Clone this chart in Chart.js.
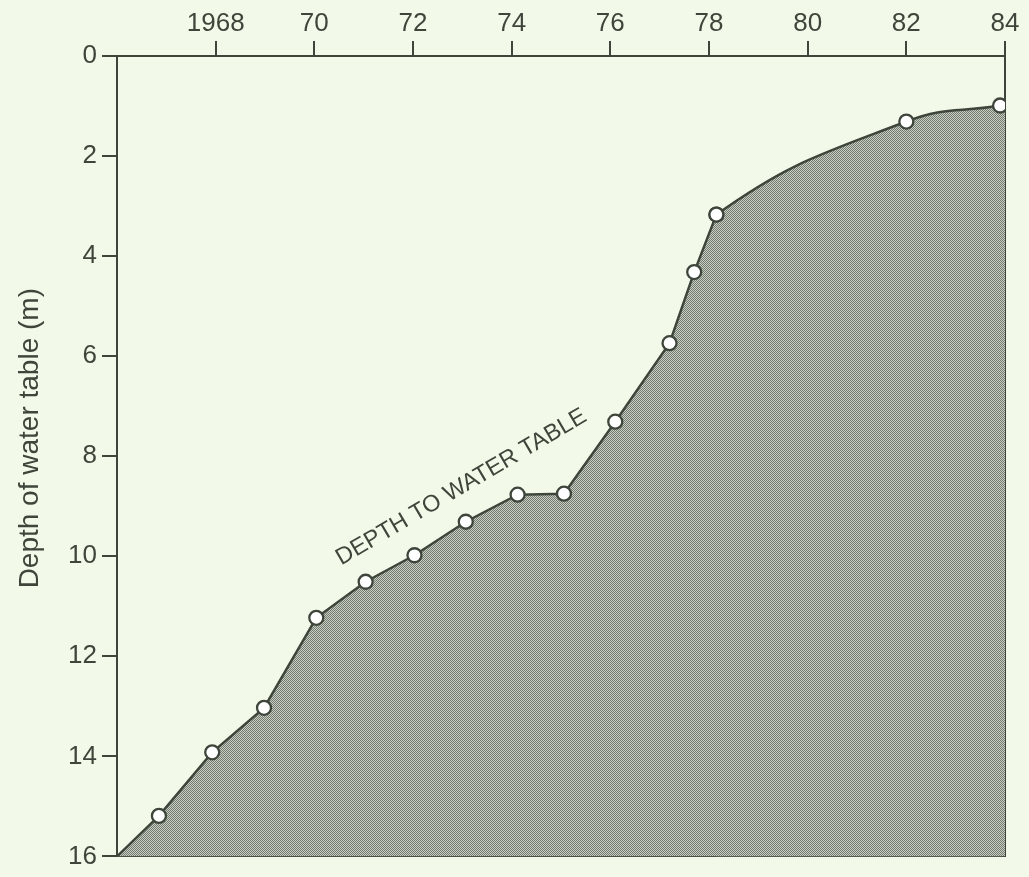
<!DOCTYPE html>
<html>
<head>
<meta charset="utf-8">
<title>Depth of water table</title>
<script src="https://cdn.jsdelivr.net/npm/chart.js@4.4.1/dist/chart.umd.min.js"></script>
<style>
  html, body { margin: 0; padding: 0; background: #f3f9e8; }
  #wrap { width: 1029px; height: 877px; }
</style>
</head>
<body>
<div id="wrap"><canvas id="waterChart" width="1029" height="877"></canvas></div>
<script>
// survey years and depth of the water table below ground (m);
// first and last entries are where the line meets the frame
const years  = [1966, 1966.85, 1967.93, 1968.98, 1970.04, 1971.04, 1972.03, 1973.07, 1974.12, 1975.06, 1976.1, 1977.2, 1977.7, 1978.15, 1982.0, 1983.9, 1984];
const depths = [16,   15.19,   13.92,   13.03,   11.23,   10.51,   9.98,    9.31,    8.77,    8.75,    7.31,   5.74,   4.32,   3.17,    1.31,   0.99,   0.97];

const xTickYears  = [1968, 1970, 1972, 1974, 1976, 1978, 1980, 1982, 1984];
const xTickLabels = ['1968', '70', '72', '74', '76', '78', '80', '82', '84'];

const yearMin = 1966, yearMax = 1984;
const depthMin = 0, depthMax = 16, depthStep = 2;

// readings from this index on are joined by a smooth curve
const curveFrom = 12;

const ink = '#3e463c';
const fontFamily = '"Liberation Sans", Arial, Helvetica, sans-serif';

function stipple() {
    const c = document.createElement('canvas');
    c.width = 2;
    c.height = 2;
    const g = c.getContext('2d');
    g.fillStyle = '#c8cec1';
    g.fillRect(0, 0, 2, 2);
    g.fillStyle = '#737b70';
    g.fillRect(0, 0, 1, 1);
    g.fillRect(1, 1, 1, 1);
    return g.createPattern(c, 'repeat');
}
const shade = stipple();
const hidden = 'rgba(0,0,0,0)';

const points = years.map((y, i) => ({ x: y, y: depths[i] }));
const straightPart = points.slice(0, curveFrom + 2);
// last reading is the final marker; the frame edge point is left to the shading
const curvedPart = points.slice(curveFrom, points.length - 1);

const marker = {
    pointBackgroundColor: '#ffffff',
    pointBorderColor: ink,
    pointBorderWidth: 2.3
};

const chartText = {
    id: 'chartText',
    afterDatasetsDraw(chart) {
        const { ctx, scales, chartArea } = chart;

        const px = scales.x.getPixelForValue(1972.98);
        const py = scales.y.getPixelForValue(8.62);
        ctx.save();
        ctx.translate(px, py);
        ctx.rotate(-30.5 * Math.PI / 180);
        ctx.font = '23.5px ' + fontFamily;
        ctx.fillStyle = ink;
        ctx.textAlign = 'center';
        ctx.textBaseline = 'middle';
        ctx.fillText('DEPTH TO WATER TABLE', 0, 0);
        ctx.restore();

        // y axis title
        ctx.save();
        ctx.translate(30, (chartArea.top + chartArea.bottom) / 2 - 18);
        ctx.rotate(-Math.PI / 2);
        ctx.font = '28px ' + fontFamily;
        ctx.fillStyle = ink;
        ctx.textAlign = 'center';
        ctx.textBaseline = 'middle';
        ctx.fillText('Depth of water table (m)', 0, 0);
        ctx.restore();
    }
};

new Chart(document.getElementById('waterChart'), {
    type: 'line',
    data: {
        datasets: [{
            // shaded ground below the water table, straight joins
            label: 'Ground',
            data: points,
            order: 2,
            tension: 0,
            borderWidth: 0,
            borderColor: hidden,
            backgroundColor: shade,
            fill: { value: depthMax },
            pointRadius: 0
        }, {
            // recent readings, smoothed; covers the curve's bulge too
            label: 'Depth to water table (recent)',
            data: curvedPart,
            order: 1,
            tension: 0.45,
            borderColor: ink,
            borderWidth: 2.5,
            backgroundColor: shade,
            fill: { value: depthMax },
            segment: {
                borderColor: ctx => ctx.p0DataIndex === 0 ? hidden : ink,
                backgroundColor: ctx => ctx.p0DataIndex === 0 ? hidden : shade
            },
            pointRadius: curvedPart.map((p, i) => i === 0 ? 0 : 7),
            ...marker
        }, {
            // earlier readings, straight joins
            label: 'Depth to water table',
            data: straightPart,
            order: 0,
            tension: 0,
            borderColor: ink,
            borderWidth: 2.5,
            fill: false,
            pointRadius: straightPart.map((p, i) => i === 0 ? 0 : 7),
            ...marker
        }]
    },
    options: {
        responsive: false,
        animation: false,
        devicePixelRatio: 1,
        layout: { padding: 0 },
        plugins: {
            legend: { display: false },
            tooltip: { enabled: false }
        },
        scales: {
            x: {
                type: 'linear',
                position: 'top',
                min: yearMin,
                max: yearMax,
                afterBuildTicks: scale => {
                    scale.ticks = xTickYears.map(v => ({ value: v }));
                },
                afterFit: scale => { scale.height = 56; },
                ticks: {
                    autoSkip: false,
                    maxRotation: 0,
                    padding: 2,
                    color: ink,
                    font: { family: fontFamily, size: 26 },
                    callback: v => xTickLabels[xTickYears.indexOf(v)]
                },
                grid: { drawOnChartArea: false, drawTicks: true, tickLength: 15, color: ink, lineWidth: 2 },
                border: { display: true, color: ink, width: 2 }
            },
            y: {
                type: 'linear',
                position: 'left',
                reverse: true,
                min: depthMin,
                max: depthMax,
                afterFit: scale => { scale.width = 117; },
                ticks: {
                    stepSize: depthStep,
                    padding: 5,
                    color: ink,
                    font: { family: fontFamily, size: 26 }
                },
                grid: { drawOnChartArea: false, drawTicks: true, tickLength: 15, color: ink, lineWidth: 2 },
                border: { display: true, color: ink, width: 2 }
            },
            xb: {
                type: 'linear',
                position: 'bottom',
                min: yearMin,
                max: yearMax,
                afterFit: scale => { scale.height = 13; },
                ticks: { display: false },
                grid: { display: false },
                border: { display: true, color: ink, width: 2 }
            },
            yr: {
                type: 'linear',
                position: 'right',
                reverse: true,
                min: depthMin,
                max: depthMax,
                afterFit: scale => { scale.width = 24; },
                ticks: { display: false },
                grid: { display: false },
                border: { display: true, color: ink, width: 2 }
            }
        }
    },
    plugins: [chartText]
});
</script>
</body>
</html>
